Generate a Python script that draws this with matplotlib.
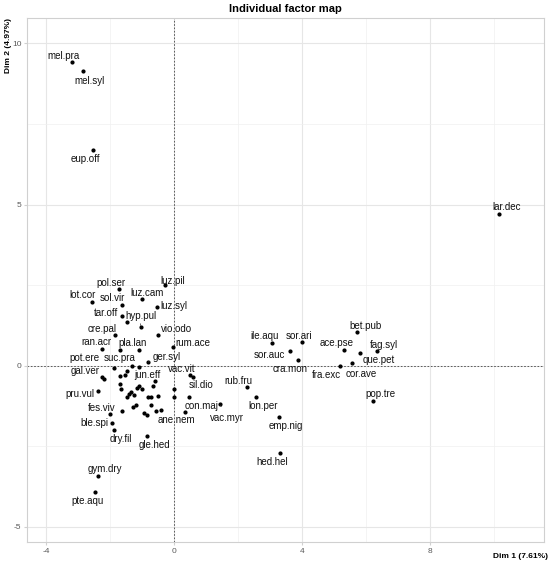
import matplotlib
matplotlib.use("Agg")
import matplotlib.pyplot as plt
from matplotlib.ticker import MultipleLocator

# individuals (species) on the first two dimensions
species = [
    "mel.pra", "mel.syl", "eup.off", "lar.dec", "luz.pil", "pol.ser", "lot.cor",
    "sol.vir", "luz.cam", "luz.syl", "tar.off", "hyp.pul", "cre.pal", "vio.odo",
    "ran.acr", "pla.lan", "rum.ace", "ger.syl", "suc.pra", "pot.ere", "gal.ver",
    "jun.eff", "vac.vit", "sil.dio", "pru.vul", "con.maj", "ane.nem", "vac.myr",
    "fes.viv", "ble.spi", "dry.fil", "gle.hed", "gym.dry", "pte.aqu", "ile.aqu",
    "sor.ari", "sor.auc", "cra.mon", "ace.pse", "bet.pub", "fag.syl", "que.pet",
    "cor.ave", "fra.exc", "pop.tre", "rub.fru", "lon.per", "emp.nig", "hed.hel",
]
dim1 = [
    -3.19, -2.85, -2.52, 10.17, -0.28, -1.72, -2.57,
    -1.63, -1.00, -0.54, -1.63, -1.04, -1.84, -0.51,
    -2.23, -1.08, -0.02, -0.80, -1.87, -2.26, -2.19,
    -0.59, 0.50, 0.60, -2.38, 0.47, 0.34, 1.44,
    -2.00, -1.92, -1.87, -0.83, -2.38, -2.45, 3.08,
    3.99, 3.62, 3.89, 5.32, 5.73, 6.35, 5.81,
    5.56, 5.19, 6.23, 2.27, 2.55, 3.28, 3.31,
]
dim2 = [
    9.42, 9.15, 6.69, 4.71, 2.50, 2.38, 1.96,
    1.88, 2.07, 1.81, 1.54, 1.20, 0.95, 0.95,
    0.50, 0.48, 0.57, 0.11, -0.09, -0.35, -0.42,
    -0.48, -0.30, -0.35, -0.80, -0.97, -1.43, -1.20,
    -1.52, -1.77, -2.01, -2.18, -3.42, -3.92, 0.71,
    0.73, 0.46, 0.18, 0.48, 1.03, 0.45, 0.38,
    0.07, 0.00, -1.10, -0.68, -0.99, -1.61, -2.73,
]

# species drawn without a label (overlapping ones)
other_dim1 = [
    -1.48, -1.67, -1.48, -1.32, -1.09, -1.69, -1.52, -1.69, -1.66, -1.08,
    -1.15, -1.01, -0.65, -1.34, -1.41, -1.45, -1.24, -0.80, -0.70, -0.50,
    0.00, 0.00, -1.63, -1.29, -1.19, -0.94, -0.84, -0.72, -0.56, -0.41,
]
other_dim2 = [
    1.36, 0.48, -0.17, -0.02, -0.04, -0.32, -0.28, -0.58, -0.73, -0.64,
    -0.71, -0.73, -0.64, -0.81, -0.89, -0.97, -0.92, -0.99, -0.97, -0.95,
    -0.74, -0.98, -1.40, -1.28, -1.23, -1.48, -1.55, -1.23, -1.42, -1.38,
]

# label placement (pixels from the point, like ggrepel would give)
offsets = {
    "mel.pra": (-8, 6), "mel.syl": (7, -10), "eup.off": (-8, -9), "lar.dec": (7, 7),
    "luz.pil": (8, 4), "pol.ser": (-8, 6), "lot.cor": (-9, 7), "sol.vir": (-9, 7),
    "luz.cam": (5, 6), "luz.syl": (17, 1), "tar.off": (-16, 3), "hyp.pul": (0, 11),
    "cre.pal": (-13, 6), "vio.odo": (19, 6), "ran.acr": (-6, 7), "pla.lan": (-7, 7),
    "rum.ace": (20, 4), "ger.syl": (18, 5), "suc.pra": (6, 10), "pot.ere": (-17, 19),
    "gal.ver": (-19, 8), "jun.eff": (-8, 6), "vac.vit": (-8, 6), "sil.dio": (8, -8),
    "pru.vul": (-18, -3), "con.maj": (13, -9), "ane.nem": (-8, -8), "vac.myr": (7, -14),
    "fes.viv": (-8, 6), "ble.spi": (-18, 0), "dry.fil": (7, -9), "gle.hed": (7, -9),
    "gym.dry": (7, 7), "pte.aqu": (-8, -9), "ile.aqu": (-8, 7), "sor.ari": (-3, 6),
    "sor.auc": (-20, -4), "cra.mon": (-8, -9), "ace.pse": (-8, 7), "bet.pub": (8, 6),
    "fag.syl": (7, 6), "que.pet": (19, -7), "cor.ave": (9, -11), "fra.exc": (-14, -9),
    "pop.tre": (7, 7), "rub.fru": (-8, 6), "lon.per": (8, -9), "emp.nig": (7, -9),
    "hed.hel": (-8, -9),
}
with_segment = {"hyp.pul", "ger.syl", "vac.myr"}


def main():
    plt.rcParams["font.family"] = ["Liberation Sans", "DejaVu Sans"]
    plt.rcParams["axes.unicode_minus"] = False
    fig = plt.figure(figsize=(5.5, 5.64), dpi=100)
    ax = fig.add_axes([0.049, 0.039, 0.94, 0.929])

    ax.set_xlim(-4.59, 11.56)
    ax.set_ylim(-5.48, 10.79)
    ax.xaxis.set_major_locator(MultipleLocator(4))
    ax.xaxis.set_minor_locator(MultipleLocator(2))
    ax.yaxis.set_major_locator(MultipleLocator(5))
    ax.yaxis.set_minor_locator(MultipleLocator(2.5))
    ax.grid(which="major", color="#e6e6e6", linewidth=0.8)
    ax.grid(which="minor", color="#f0f0f0", linewidth=0.5)
    ax.set_axisbelow(True)
    for s in ax.spines.values():
        s.set_color("#d0d0d0")
        s.set_linewidth(0.8)
    ax.tick_params(which="both", length=2, color="#d0d0d0", labelsize=6,
                   labelcolor="#5a5a5a", pad=2)
    ax.tick_params(which="minor", length=0)

    ax.axhline(0, color="#444444", linestyle=(0, (2, 2)), linewidth=0.6)
    ax.axvline(0, color="#444444", linestyle=(0, (2, 2)), linewidth=0.6)

    ax.scatter(dim1, dim2, s=4, color="black", zorder=3)
    ax.scatter(other_dim1, other_dim2, s=4, color="black", zorder=3)

    for name, x, y in zip(species, dim1, dim2):
        dx, dy = offsets.get(name, (0, 8))
        arrow = None
        if name in with_segment:
            arrow = dict(arrowstyle="-", color="#333333", linewidth=0.5,
                         shrinkA=3, shrinkB=1)
        ax.annotate(name, (x, y), xytext=(dx, dy), textcoords="offset pixels",
                    ha="center", va="center", fontsize=7, color="#111111",
                    arrowprops=arrow, zorder=4)

    ax.set_title("Individual factor map", fontsize=8, fontweight="bold", pad=4)
    fig.text(0.997, 1 - 557 / 564, "Dim 1 (7.61%)", fontsize=6,
             fontweight="bold", ha="right", va="center")
    fig.text(9 / 550, 1 - 18 / 564, "Dim 2 (4.97%)", fontsize=6,
             fontweight="bold", ha="center", va="top", rotation=90)

    fig.savefig("out.png", dpi=100)


if __name__ == '__main__':
    main()
